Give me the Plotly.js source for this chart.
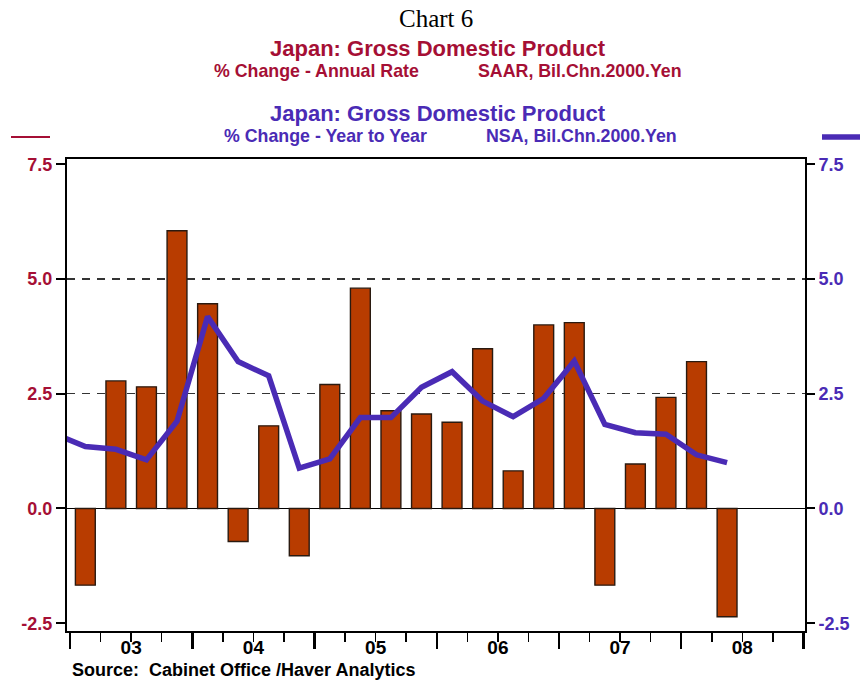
<!DOCTYPE html>
<html>
<head>
<meta charset="utf-8">
<script src="https://cdn.plot.ly/plotly-3.0.1.min.js"></script>
<style>
  body { margin: 0; background: #fff; }
  #myPlot { width: 865px; height: 682px; }
</style>
</head>
<body>
<div id="myPlot"></div>
<script>
// quarters, 2002Q4 only carries the y/y line (it is clipped at the left edge)
const quarters = ['2002Q4',
    '2003Q1', '2003Q2', '2003Q3', '2003Q4',
    '2004Q1', '2004Q2', '2004Q3', '2004Q4',
    '2005Q1', '2005Q2', '2005Q3', '2005Q4',
    '2006Q1', '2006Q2', '2006Q3', '2006Q4',
    '2007Q1', '2007Q2', '2007Q3', '2007Q4',
    '2008Q1', '2008Q2'];

// % change - annual rate (bars, left axis)
const gdpAnnualRate = [null,
    -1.67, 2.78, 2.65, 6.05,
    4.46, -0.72, 1.80, -1.03,
    2.70, 4.80, 2.13, 2.06,
    1.88, 3.48, 0.82, 4.00,
    4.05, -1.67, 0.97, 2.42,
    3.20, -2.36];

// % change - year to year (line, right axis)
const gdpYearToYear = [1.62,
    1.35, 1.29, 1.06, 1.90,
    4.18, 3.20, 2.89, 0.88,
    1.08, 1.98, 1.98, 2.64,
    2.98, 2.34, 2.00, 2.40,
    3.21, 1.83, 1.65, 1.62,
    1.17, 1.00];

const yearLabels = ['03', '04', '05', '06', '07', '08'];
const yTicks = [-2.5, 0.0, 2.5, 5.0, 7.5];
const gridTicks = [2.5, 5.0];

const graph_div_id = 'myPlot';
const red = '#a50f35';
const blue = '#4a2bb5';
const yRange = [-2.669, 7.614];
const xRange = [-0.6, 23.55];

// quarter position: 2003Q1 = 0
function quarterPos(q) {
    return (parseInt(q.slice(0, 4)) - 2003) * 4 + parseInt(q.slice(5)) - 1;
}
const xPos = quarters.map(quarterPos);
const yearPos = yearLabels.map((y, i) => i * 4 + 1.5);

const data = [
    {
        type: 'bar', x: xPos, y: gdpAnnualRate, width: 0.65,
        marker: { color: '#b83c00', line: { color: '#2a1a10', width: 1.4 } },
        xaxis: 'x', yaxis: 'y', hoverinfo: 'skip'
    },
    {
        type: 'scatter', mode: 'lines', x: xPos, y: gdpYearToYear,
        line: { color: blue, width: 5.5 },
        xaxis: 'x', yaxis: 'y2', cliponaxis: true, hoverinfo: 'skip'
    },
    // empty helper so the label axis (x2) and the grid axis (y3) get drawn
    {
        type: 'scatter', mode: 'markers', x: yearPos, y: gridTicks.concat(gridTicks, gridTicks),
        marker: { opacity: 0, size: 1 }, xaxis: 'x2', yaxis: 'y3', hoverinfo: 'skip'
    }
];

const tickFontL = { family: 'Liberation Sans, Arial, sans-serif', size: 18, color: red, weight: 'bold' };
const tickFontR = { family: 'Liberation Sans, Arial, sans-serif', size: 18, color: blue, weight: 'bold' };
const titleFont = 'Liberation Sans, Arial, sans-serif';

function px(x) { return (x - 67) / 738; }
function py(y) { return (631 - y) / 472; }

const annotations = [
    { text: 'Chart 6', x: 0.5, y: py(19), font: { family: 'Liberation Serif, Times New Roman, serif', size: 25, color: '#000' } },
    { text: '<b>Japan: Gross Domestic Product</b>', x: px(438), y: py(48), font: { family: titleFont, size: 22, color: red } },
    { text: '<b>% Change - Annual Rate</b>', x: px(316), y: py(71), font: { family: titleFont, size: 17.8, color: red } },
    { text: '<b>SAAR, Bil.Chn.2000.Yen</b>', x: px(580), y: py(71), font: { family: titleFont, size: 17.8, color: red } },
    { text: '<b>Japan: Gross Domestic Product</b>', x: px(438), y: py(114), font: { family: titleFont, size: 22, color: blue } },
    { text: '<b>% Change - Year to Year</b>', x: px(325), y: py(136), font: { family: titleFont, size: 17.8, color: blue } },
    { text: '<b>NSA, Bil.Chn.2000.Yen</b>', x: px(581), y: py(136), font: { family: titleFont, size: 17.8, color: blue } },
    { text: '<b>Source:  Cabinet Office /Haver Analytics</b>', x: px(70), y: py(670), xanchor: 'left', font: { family: titleFont, size: 18, color: '#000' } }
].map(a => Object.assign({ xref: 'paper', yref: 'paper', showarrow: false, xanchor: 'center', yanchor: 'middle' }, a));

const layout = {
    width: 865, height: 682,
    margin: { l: 67, r: 60, t: 159, b: 51 },
    paper_bgcolor: '#fff', plot_bgcolor: '#fff',
    showlegend: false,
    bargap: 0,
    xaxis: {
        range: xRange, tickmode: 'linear', tick0: -0.5, dtick: 4,
        ticks: 'outside', ticklen: 16, tickwidth: 2.5, tickcolor: '#000',
        minor: { tick0: -0.5, dtick: 1, ticks: 'outside', ticklen: 9, tickwidth: 1.5, tickcolor: '#000', showgrid: false },
        showticklabels: false, showgrid: false, zeroline: false,
        showline: true, linecolor: '#000', linewidth: 2, mirror: true
    },
    xaxis2: {
        overlaying: 'x', anchor: 'y', side: 'bottom', range: xRange,
        tickmode: 'array', tickvals: yearPos, ticktext: yearLabels,
        ticks: '', ticklabelstandoff: 3, showline: false, showgrid: false, zeroline: false,
        tickfont: { family: titleFont, size: 19, color: '#000', weight: 'bold' }
    },
    yaxis: {
        range: yRange, tickmode: 'array', tickvals: yTicks, ticktext: yTicks.map(v => v.toFixed(1)),
        ticks: 'outside', ticklen: 9, tickwidth: 2, tickcolor: '#000',
        tickfont: tickFontL, showgrid: false,
        zeroline: true, zerolinecolor: '#000', zerolinewidth: 1.5,
        showline: true, linecolor: '#000', linewidth: 2, mirror: true
    },
    yaxis2: {
        overlaying: 'y', side: 'right', range: yRange, tickmode: 'array', tickvals: yTicks,
        ticktext: yTicks.map(v => v.toFixed(1)),
        ticks: 'outside', ticklen: 9, tickwidth: 2, tickcolor: '#000',
        tickfont: tickFontR, showgrid: false, zeroline: false, showline: false
    },
    yaxis3: {
        overlaying: 'y', side: 'left', range: yRange, tickmode: 'array', tickvals: gridTicks,
        showticklabels: false, ticks: '', showline: false, zeroline: false,
        showgrid: true, gridcolor: '#333', gridwidth: 1.3, griddash: '8px,7px'
    },
    shapes: [
        { type: 'line', xref: 'paper', yref: 'paper', x0: px(11), x1: px(50), y0: py(137), y1: py(137), line: { color: red, width: 2 } },
        { type: 'line', xref: 'paper', yref: 'paper', x0: px(822), x1: px(860), y0: py(137), y1: py(137), line: { color: blue, width: 5.5 } }
    ],
    annotations: annotations
};

window.onload = function () {
    Plotly.newPlot(graph_div_id, data, layout, { staticPlot: true });
};
</script>
</body>
</html>
